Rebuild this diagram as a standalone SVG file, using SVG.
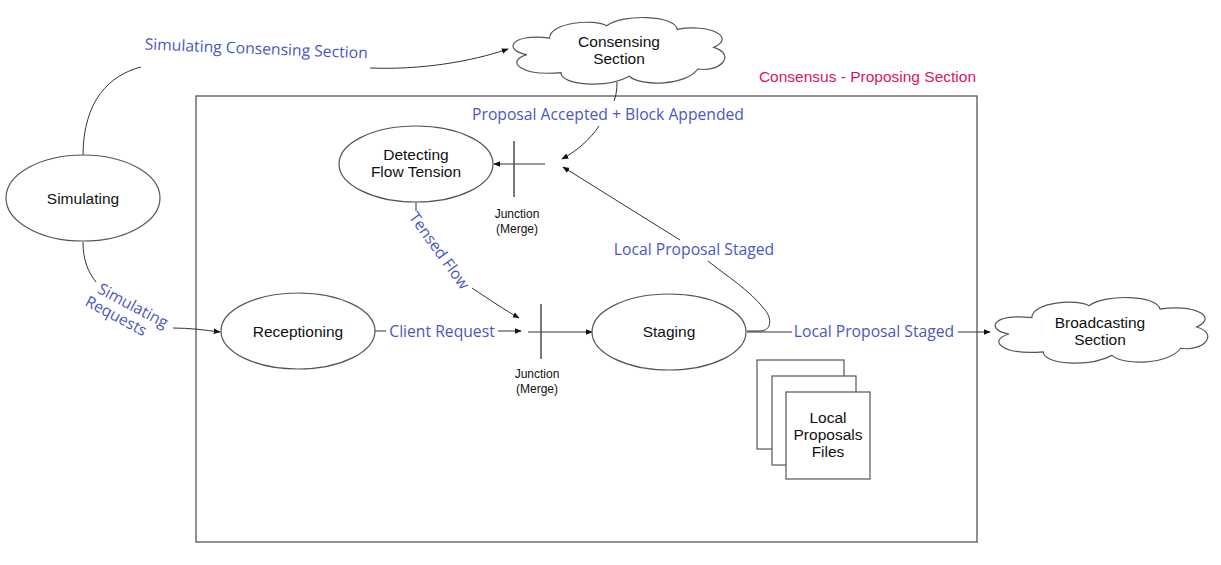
<svg xmlns="http://www.w3.org/2000/svg" width="1221" height="565" viewBox="0 0 1221 565">
<style>
.node{fill:#fff;stroke:#555;stroke-width:1.2}
.nt{font-family:"Liberation Sans",Arial,sans-serif;font-size:15.5px;fill:#111;text-anchor:middle}
.jt{font-family:"Liberation Sans",Arial,sans-serif;font-size:12px;fill:#111;text-anchor:middle}
.lbl{font-family:"Open Sans","Noto Sans",sans-serif;font-size:15.7px;fill:#4a56c4;text-anchor:middle}
.ln{fill:none;stroke:#333;stroke-width:1}
.arr{marker-end:url(#ah)}
.jn{stroke:#555;stroke-width:1.6}
</style>
<defs>
<marker id="ah" viewBox="0 0 10 10" refX="9" refY="5" markerWidth="7" markerHeight="7" markerUnits="userSpaceOnUse" orient="auto">
<path d="M0,1 L10,5 L0,9 Z" fill="#111"/>
</marker>
</defs>
<rect width="1221" height="565" fill="#fff"/>

<g id="section-box">
<rect x="196" y="96" width="781" height="446" fill="none" stroke="#555" stroke-width="1.3"/>
<text x="976" y="82" font-family="'Liberation Sans',Arial,sans-serif" font-size="15.5" fill="#e2106a" text-anchor="end">Consensus - Proposing Section</text>
</g>

<g id="connectors">
<path class="ln" d="M83,156 C83,100 110,75 141,67"/>
<path class="ln arr" d="M370,68 C420,70 470,62 508,49"/>
<path class="ln" d="M617,82 C617,90 616,96 614,101"/>
<path class="ln arr" d="M599,126 C590,140 575,152 562,159"/>
<path class="ln arr" d="M545,164 L494,164"/>
<path class="ln" d="M747,331 L760,331 C772,331 772,318 765,310 C750,290 725,275 708,261"/>
<path class="ln arr" d="M680,240 L563,167"/>
<path class="ln" d="M747,332 L792,332"/>
<path class="ln arr" d="M958,332 L990,332"/>
<path class="ln" d="M375,331 L386,331"/>
<path class="ln arr" d="M498,331 L521,331"/>
<path class="ln arr" d="M528,332 L592,332"/>
<path class="ln" d="M416,202 L416,211"/>
<path class="ln arr" d="M472,288 C490,300 505,310 519,318"/>
<path class="ln" d="M83,242 C83,260 88,272 96,282"/>
<path class="ln arr" d="M173,328 C190,328 205,330 220,332"/>
<text class="lbl" transform="translate(256,54) rotate(2.3)">Simulating Consensing Section</text>
<text class="lbl" x="608" y="120">Proposal Accepted + Block Appended</text>
<text class="lbl" x="694" y="255">Local Proposal Staged</text>
<text class="lbl" x="874" y="337">Local Proposal Staged</text>
<text class="lbl" x="442" y="337">Client Request</text>
<text class="lbl" transform="translate(435,254) rotate(54)">Tensed Flow</text>
<text class="lbl" transform="translate(125,312) rotate(28)"><tspan x="4" y="-4">Simulating</tspan><tspan x="-6" y="13">Requests</tspan></text>
</g>

<g id="simulating">
<ellipse class="node" cx="83" cy="198" rx="77" ry="43"/>
<text class="nt" x="83" y="204">Simulating</text>
</g>

<g id="consensing-section">
<path class="node" d="M526.8,54.6 C504,51 508.56,33 549.6,38.04 C549.6,22.2 595.2,18.6 606.6,25.8 C622.56,13.56 675,15 677.28,29.4 C709.2,23.64 736.56,36.6 713.76,47.4 C736.56,54.6 720.6,72.6 697.8,69 C686.4,85.56 640.8,87 629.4,76.2 C606.6,88.44 561,85.56 561,72.6 C522.24,76.2 504,61.8 526.8,54.6 Z"/>
<text class="nt" x="619" y="47">Consensing</text>
<text class="nt" x="619" y="64">Section</text>
</g>

<g id="detecting-flow-tension">
<ellipse class="node" cx="416" cy="164" rx="77" ry="38"/>
<text class="nt" x="416" y="160">Detecting</text>
<text class="nt" x="416" y="177">Flow Tension</text>
</g>

<g id="junction-1">
<line class="jn" x1="514" y1="141" x2="514" y2="197"/>
<text class="jt" x="517" y="218">Junction</text>
<text class="jt" x="517" y="233">(Merge)</text>
</g>

<g id="receptioning">
<ellipse class="node" cx="298" cy="331" rx="77" ry="38"/>
<text class="nt" x="298" y="337">Receptioning</text>
</g>

<g id="junction-2">
<line class="jn" x1="541" y1="304" x2="541" y2="359"/>
<text class="jt" x="537" y="378">Junction</text>
<text class="jt" x="537" y="393">(Merge)</text>
</g>

<g id="staging">
<ellipse class="node" cx="669" cy="332" rx="77" ry="38"/>
<text class="nt" x="669" y="337">Staging</text>
</g>

<g id="broadcasting-section">
<path class="node" d="M1008.9,334.05 C986,330.5 990.58,312.75 1031.8,317.72 C1031.8,302.1 1077.6,298.55 1089.05,305.65 C1105.08,293.58 1157.75,295 1160.04,309.2 C1192.1,303.52 1219.58,316.3 1196.68,326.95 C1219.58,334.05 1203.55,351.8 1180.65,348.25 C1169.2,364.58 1123.4,366 1111.95,355.35 C1089.05,367.42 1043.25,364.58 1043.25,351.8 C1004.32,355.35 986,341.15 1008.9,334.05 Z"/>
<text class="nt" x="1100" y="328">Broadcasting</text>
<text class="nt" x="1100" y="345">Section</text>
</g>

<g id="local-proposals-files">
<rect class="node" x="757" y="360" width="87" height="89"/>
<rect class="node" x="772" y="376" width="84" height="89"/>
<rect class="node" x="786" y="392" width="84" height="87"/>
<text class="nt" x="828" y="423">Local</text>
<text class="nt" x="828" y="440">Proposals</text>
<text class="nt" x="828" y="457">Files</text>
</g>
</svg>
